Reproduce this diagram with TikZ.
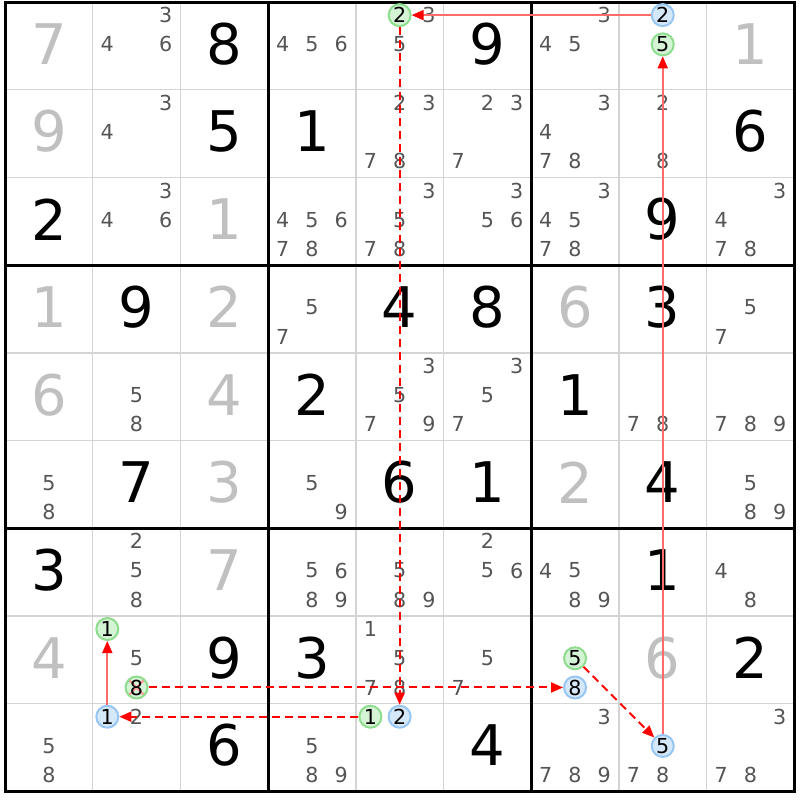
\documentclass[tikz,border=0pt]{standalone}
\usepackage{fontspec}
\setmainfont{DejaVu Sans}
\usetikzlibrary{arrows.meta}

\definecolor{givengray}{HTML}{C0C0C0}
\definecolor{candgray}{HTML}{555555}
\definecolor{thingrid}{HTML}{D4D4D4}
\definecolor{onfill}{HTML}{D5F3D5}
\definecolor{ondraw}{HTML}{8EDC8E}
\definecolor{offfill}{HTML}{D5E8FA}
\definecolor{offdraw}{HTML}{98C6F2}
\definecolor{linkred}{HTML}{FF0000}
\definecolor{stronglinkred}{HTML}{FF6A6A}

\tikzset{every picture/.style={line width=0.75pt}}
\tikzset{
  thinline/.style={draw=thingrid, line width=1.1pt},
  boxline/.style={draw=black, line width=2.25pt},
  givendigit/.style={inner sep=0pt, text=givengray, font=\fontsize{42}{44}\selectfont},
  solveddigit/.style={inner sep=0pt, text=black, font=\fontsize{42}{44}\selectfont},
  plaincand/.style={inner sep=0pt, text=candgray, font=\fontsize{15.5}{16}\selectfont},
  oncand/.style={circle, inner sep=0pt, minimum size=16.5pt, line width=1.5pt, draw=ondraw, fill=onfill, text=black, font=\fontsize{15.5}{16}\selectfont},
  offcand/.style={oncand, draw=offdraw, fill=offfill},
  elimcand/.style={oncand, path picture={
      \draw[stronglinkred!70, line width=1.5pt] (path picture bounding box.north west) -- (path picture bounding box.south east)
        (path picture bounding box.north east) -- (path picture bounding box.south west);}},
  stronglink/.style={draw=stronglinkred, line width=1.4pt, -{Triangle[length=9pt, width=7.5pt, color=linkred]}},
  weaklink/.style={draw=linkred, line width=1.5pt, dash pattern=on 6pt off 3.75pt, -{Triangle[length=9pt, width=7.5pt, color=linkred]}}
}

% big digit in the middle of a cell: [style]{row}{col}{digit}
\newcommand{\bigdigit}[4][solveddigit]{%
  \node[#1] (r#2c#3) at ({5+(#3+0.5)*87.7},{2+(#2+0.5)*87.7-2}) {#4};}
% one candidate: [style]{row}{col}{digit}
\newcommand{\cand}[4][plaincand]{%
  \node[#1] (r#2c#3n#4) at ({5+#3*87.7+(mod(#4-1,3)+0.5)*29.23},{2+#2*87.7+(int((#4-1)/3)+0.5)*29.23-1.5}) {#4};}
\newcommand{\cands}[3]{\foreach \cnum in {#3}{\cand{#1}{#2}{\cnum}}}

\begin{document}
\begin{tikzpicture}[x=0.75pt,y=0.75pt,yscale=-1,xscale=1]
\useasboundingbox (0,0) rectangle (800,800);

%Grid
\foreach \i in {1,2,4,5,7,8} {
  \draw[thinline] (5+\i*87.7,2) -- (5+\i*87.7,791.3);
  \draw[thinline] (5,2+\i*87.7) -- (794.3,2+\i*87.7);
}
\foreach \i in {3,6} {
  \draw[boxline] (5+\i*87.7,2) -- (5+\i*87.7,791.3);
  \draw[boxline] (5,2+\i*87.7) -- (794.3,2+\i*87.7);
}
\draw[boxline] (5,2) rectangle (794.3,791.3);

%Givens
\bigdigit[givendigit]{0}{0}{7}
\bigdigit[givendigit]{0}{8}{1}
\bigdigit[givendigit]{1}{0}{9}
\bigdigit[givendigit]{2}{2}{1}
\bigdigit[givendigit]{3}{0}{1}
\bigdigit[givendigit]{3}{2}{2}
\bigdigit[givendigit]{3}{6}{6}
\bigdigit[givendigit]{4}{0}{6}
\bigdigit[givendigit]{4}{2}{4}
\bigdigit[givendigit]{5}{2}{3}
\bigdigit[givendigit]{5}{6}{2}
\bigdigit[givendigit]{6}{2}{7}
\bigdigit[givendigit]{7}{0}{4}
\bigdigit[givendigit]{7}{7}{6}

%Solved cells
\bigdigit{0}{2}{8}
\bigdigit{0}{5}{9}
\bigdigit{1}{2}{5}
\bigdigit{1}{3}{1}
\bigdigit{1}{8}{6}
\bigdigit{2}{0}{2}
\bigdigit{2}{7}{9}
\bigdigit{3}{1}{9}
\bigdigit{3}{4}{4}
\bigdigit{3}{5}{8}
\bigdigit{3}{7}{3}
\bigdigit{4}{3}{2}
\bigdigit{4}{6}{1}
\bigdigit{5}{1}{7}
\bigdigit{5}{4}{6}
\bigdigit{5}{5}{1}
\bigdigit{5}{7}{4}
\bigdigit{6}{0}{3}
\bigdigit{6}{7}{1}
\bigdigit{7}{2}{9}
\bigdigit{7}{3}{3}
\bigdigit{7}{8}{2}
\bigdigit{8}{2}{6}
\bigdigit{8}{5}{4}

%Candidates
\cands{0}{1}{3,4,6}
\cands{0}{3}{4,5,6}
\cands{0}{4}{3,5}
\cands{0}{6}{3,4,5}
\cands{1}{1}{3,4}
\cands{1}{4}{2,3,7,8}
\cands{1}{5}{2,3,7}
\cands{1}{6}{3,4,7,8}
\cands{1}{7}{2,8}
\cands{2}{1}{3,4,6}
\cands{2}{3}{4,5,6,7,8}
\cands{2}{4}{3,5,7,8}
\cands{2}{5}{3,5,6}
\cands{2}{6}{3,4,5,7,8}
\cands{2}{8}{3,4,7,8}
\cands{3}{3}{5,7}
\cands{3}{8}{5,7}
\cands{4}{1}{5,8}
\cands{4}{4}{3,5,7,9}
\cands{4}{5}{3,5,7}
\cands{4}{7}{7,8}
\cands{4}{8}{7,8,9}
\cands{5}{0}{5,8}
\cands{5}{3}{5,9}
\cands{5}{8}{5,8,9}
\cands{6}{1}{2,5,8}
\cands{6}{3}{5,6,8,9}
\cands{6}{4}{5,8,9}
\cands{6}{5}{2,5,6}
\cands{6}{6}{4,5,8,9}
\cands{6}{8}{4,8}
\cands{7}{1}{5}
\cands{7}{4}{1,5,7,8}
\cands{7}{5}{5,7}
\cands{8}{0}{5,8}
\cands{8}{1}{2}
\cands{8}{3}{5,8,9}
\cands{8}{6}{3,7,8,9}
\cands{8}{7}{7,8}
\cands{8}{8}{3,7,8}

%Chain candidates
\cand[oncand]{0}{4}{2}
\cand[offcand]{0}{7}{2}
\cand[oncand]{0}{7}{5}
\cand[oncand]{7}{1}{1}
\cand[elimcand]{7}{1}{8}
\cand[oncand]{7}{6}{5}
\cand[offcand]{7}{6}{8}
\cand[offcand]{8}{1}{1}
\cand[oncand]{8}{4}{1}
\cand[offcand]{8}{4}{2}
\cand[offcand]{8}{7}{5}

%Links
\draw[stronglink] (r0c7n2) -- (r0c4n2);
\draw[weaklink] (r0c4n2) -- (r8c4n2);
\draw[weaklink] (r8c4n1) -- (r8c1n1);
\draw[stronglink] (r8c1n1) -- (r7c1n1);
\draw[weaklink] (r7c1n8) -- (r7c6n8);
\draw[weaklink] (r7c6n5) -- (r8c7n5);
\draw[stronglink] (r8c7n5) -- (r0c7n5);

\end{tikzpicture}
\end{document}
